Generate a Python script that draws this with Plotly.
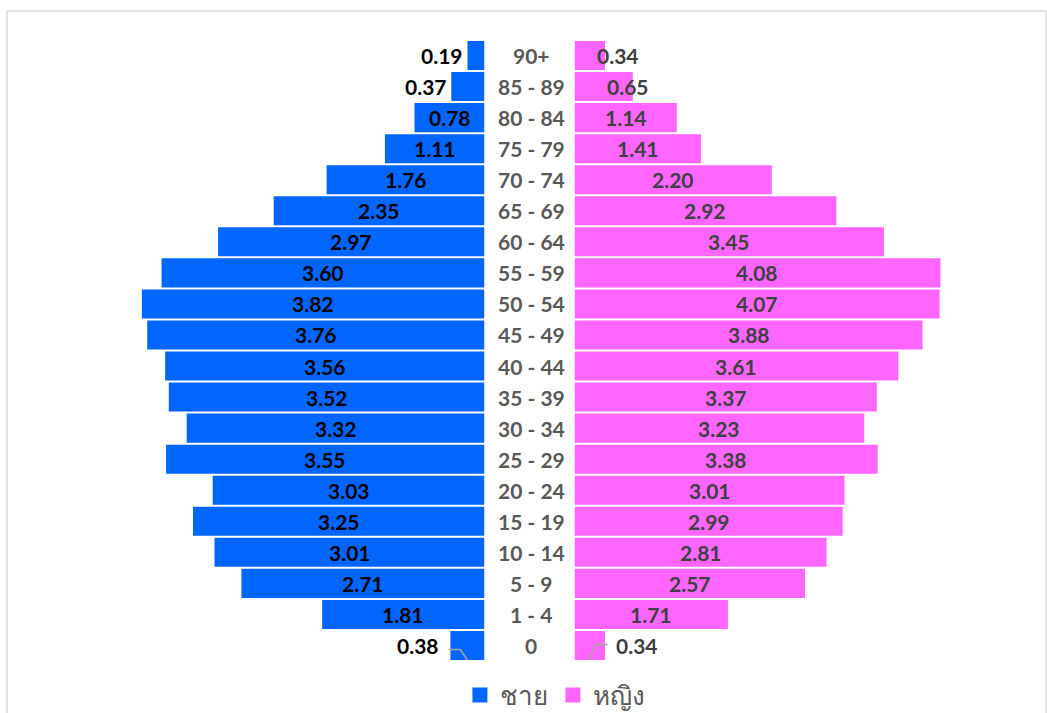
import plotly.graph_objects as go

# Age groups, bottom to top
age_groups = ["0", "1 - 4", "5 - 9", "10 - 14", "15 - 19", "20 - 24", "25 - 29",
              "30 - 34", "35 - 39", "40 - 44", "45 - 49", "50 - 54", "55 - 59",
              "60 - 64", "65 - 69", "70 - 74", "75 - 79", "80 - 84", "85 - 89", "90+"]

# Percent of population
male = [0.38, 1.81, 2.71, 3.01, 3.25, 3.03, 3.55, 3.32, 3.52, 3.56, 3.76,
        3.82, 3.60, 2.97, 2.35, 1.76, 1.11, 0.78, 0.37, 0.19]
female = [0.34, 1.71, 2.57, 2.81, 2.99, 3.01, 3.38, 3.23, 3.37, 3.61, 3.88,
          4.07, 4.08, 3.45, 2.92, 2.20, 1.41, 1.14, 0.65, 0.34]

series_names = ["ชาย", "หญิง"]

BLUE = "#0066FF"
PINK = "#FF66FF"
FONT = "Lato, 'Noto Sans', sans-serif"

W, H = 1047, 713
PX_PER_UNIT = 89.7
MALE_RIGHT = 484.5      # px, inner edge of the male bars
FEMALE_LEFT = 574.5     # px, inner edge of the female bars
CENTER_X = 531          # px, age label column
LABEL_SIZE = 21

fig = go.Figure()

fig.add_trace(go.Bar(
    y=age_groups, x=male, orientation="h", name=series_names[0],
    marker=dict(color=BLUE, line=dict(width=0)),
    xaxis="x", yaxis="y", hoverinfo="skip", showlegend=False,
))
fig.add_trace(go.Bar(
    y=age_groups, x=female, orientation="h", name=series_names[1],
    marker=dict(color=PINK, line=dict(width=0)),
    xaxis="x2", yaxis="y", hoverinfo="skip", showlegend=False,
))

# Legend entries with larger square swatches
for name, color in zip(series_names, [BLUE, PINK]):
    fig.add_trace(go.Scatter(
        x=[None], y=[None], mode="markers", name=name,
        marker=dict(symbol="square", size=15, color=color),
        xaxis="x2", yaxis="y", hoverinfo="skip",
    ))

annotations = []

# Age labels down the middle
for age in age_groups:
    annotations.append(dict(
        x=CENTER_X / W, xref="paper", y=age, yref="y", text=age,
        showarrow=False, xanchor="center", yanchor="middle",
        font=dict(family=FONT, size=LABEL_SIZE, color="#595959", weight="bold"),
    ))

# Male value labels: centred in the bar, outside for very small bars
for age, v in zip(age_groups, male):
    lab = dict(y=age, yref="y", xref="x", text=f"{v:.2f}", showarrow=False,
               yanchor="middle",
               font=dict(family=FONT, size=LABEL_SIZE, color="#000000", weight="bold"))
    if age == "0":
        lab.update(x=v, xanchor="right", xshift=-9)
    elif v < 0.5:
        lab.update(x=v, xanchor="right", xshift=-2)
    else:
        lab.update(x=v / 2, xanchor="center")
    annotations.append(lab)

# Female value labels: centred in the bar, nudged for the small top bars
female_nudge = {"90+": 0.15, "85 - 89": -0.05}
for age, v in zip(age_groups, female):
    lab = dict(y=age, yref="y", xref="x2", text=f"{v:.2f}", showarrow=False,
               yanchor="middle",
               font=dict(family=FONT, size=LABEL_SIZE, color="#404040", weight="bold"))
    if age == "0":
        lab.update(x=v, xanchor="left", xshift=9)
    elif age in female_nudge:
        lab.update(x=v + female_nudge[age], xanchor="center")
    else:
        lab.update(x=v / 2, xanchor="center")
    annotations.append(lab)

# Leader lines for the bottom row labels
i0 = age_groups.index("0")
m0, f0 = male[i0], female[i0]
leader = dict(type="line", line=dict(color="#A6A6A6", width=1.5), yref="y")
shapes = [
    dict(leader, xref="x", x0=m0 / 2, y0=i0 - 0.47, x1=m0 / 2 + 0.08, y1=i0 - 0.13),
    dict(leader, xref="x", x0=m0 / 2 + 0.08, y0=i0 - 0.13, x1=m0 + 0.02, y1=i0 - 0.13),
    dict(leader, xref="x2", x0=f0 / 2, y0=i0 - 0.47, x1=f0 / 2 + 0.06, y1=i0 + 0.03),
    dict(leader, xref="x2", x0=f0 / 2 + 0.06, y0=i0 + 0.03, x1=f0 + 0.03, y1=i0 + 0.03),
]

# Chart frame
TOP, BOTTOM = 40, 52
plot_h = H - TOP - BOTTOM
shapes.append(dict(
    type="rect", xref="paper", yref="paper",
    x0=7 / W, x1=1046 / W,
    y0=(plot_h - (H + 20 - TOP)) / plot_h, y1=(plot_h - (11 - TOP)) / plot_h,
    line=dict(color="#D9D9D9", width=1.5), fillcolor="rgba(0,0,0,0)", layer="below",
))

fig.update_layout(
    width=W, height=H,
    margin=dict(l=0, r=0, t=TOP, b=BOTTOM, pad=0, autoexpand=False),
    paper_bgcolor="white", plot_bgcolor="white",
    bargap=0.065,
    showlegend=True,
    legend=dict(
        orientation="h", x=0.530, xanchor="center",
        yref="container", y=(H - 695) / H, yanchor="middle",
        font=dict(family=FONT, size=26, color="#595959"),
        itemsizing="trace", itemwidth=30,
        itemclick=False, itemdoubleclick=False,
    ),
    xaxis=dict(
        domain=[0, MALE_RIGHT / W], range=[MALE_RIGHT / PX_PER_UNIT, 0],
        visible=False, fixedrange=True,
    ),
    xaxis2=dict(
        domain=[FEMALE_LEFT / W, 1], range=[0, (W - FEMALE_LEFT) / PX_PER_UNIT],
        visible=False, anchor="y", fixedrange=True,
    ),
    yaxis=dict(
        type="category", categoryorder="array", categoryarray=age_groups,
        range=[-0.5, len(age_groups) - 0.5], visible=False, fixedrange=True,
    ),
    annotations=annotations,
    shapes=shapes,
)

fig.write_html("out.html", config=dict(displayModeBar=False))
